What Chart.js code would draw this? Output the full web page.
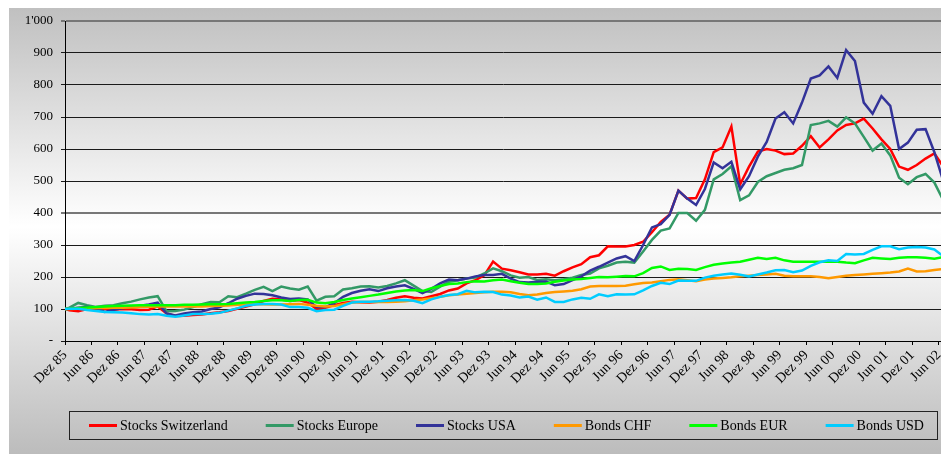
<!DOCTYPE html>
<html>
<head>
<meta charset="utf-8">
<script src="https://cdn.jsdelivr.net/npm/chart.js@4.4.1/dist/chart.umd.min.js"></script>
<style>
  html, body { margin: 0; padding: 0; background: #fff; overflow: hidden; }
</style>
</head>
<body>
<canvas id="chart" width="941" height="454"></canvas>
<script>
// month index since Dez 85 (0 = Dez 85), sampled at the odd months
const months = [0,1,3,5,7,9,11,13,15,17,19,21,23,25,27,29,31,33,35,37,39,41,43,45,47,49,
  51,53,55,57,59,61,63,65,67,69,71,73,75,77,79,81,83,85,87,89,91,93,95,97,99,
  101,103,105,107,109,111,113,115,117,119,121,123,125,127,129,131,133,135,137,139,141,143,145,147,149,
  151,153,155,157,159,161,163,165,167,169,171,173,175,177,179,181,183,185,187,189,191,193,195,197,199];

const tickLabels = ['Dez 85','Jun 86','Dez 86','Jun 87','Dez 87','Jun 88','Dez 88','Jun 89','Dez 89',
  'Jun 90','Dez 90','Jun 91','Dez 91','Jun 92','Dez 92','Jun 93','Dez 93','Jun 94','Dez 94','Jun 95',
  'Dez 95','Jun 96','Dez 96','Jun 97','Dez 97','Jun 98','Dez 98','Jun 99','Dez 99','Jun 00','Dez 00',
  'Jun 01','Dez 01','Jun 02'];

const stocksSwitzerland = [100,96,93,100,102,101,98,100,99,97,
  98,108,86,78,79,81,83,87,90,94,
  101,108,115,125,132,130,125,128,120,100,
  104,112,119,123,121,120,123,128,135,140,
  135,133,140,147,158,164,180,190,205,248,
  226,221,215,208,208,210,204,218,230,240,
  262,268,296,295,295,300,310,340,372,395,
  470,445,447,505,590,605,670,490,545,592,
  600,595,584,586,610,640,605,630,658,675,
  680,695,664,630,600,545,535,550,570,586,
  545];

const stocksEurope = [100,104,119,112,106,110,112,118,123,130,
  136,140,93,94,98,106,115,122,121,140,
  137,148,160,169,156,170,164,160,170,126,
  138,140,161,165,170,171,167,172,180,190,
  173,156,153,170,185,190,195,198,211,227,
  218,205,198,200,191,193,190,193,198,206,
  211,227,235,245,248,245,280,316,345,352,
  400,400,376,410,505,522,546,440,455,497,
  515,525,535,540,550,675,680,688,670,699,
  680,638,595,617,580,510,490,512,522,495,
  440];

const stocksUSA = [100,101,104,106,104,91,98,102,106,110,
  114,120,86,80,86,90,92,100,105,118,
  132,141,148,147,143,136,131,133,130,106,
  106,118,138,150,157,162,156,165,170,174,
  163,150,163,180,192,190,195,202,206,206,
  210,195,184,183,185,186,174,178,190,202,
  220,232,245,258,265,250,300,355,365,394,
  470,445,425,475,558,540,560,474,515,576,
  622,695,715,680,745,820,830,858,822,909,
  875,745,710,765,735,600,620,660,662,590,
  500];

const bondsCHF = [100,100,101,102,103,103,104,104,105,106,
  107,108,108,108,108,108,108,109,110,111,
  113,114,115,115,114,114,115,116,113,110,
  108,109,115,120,122,122,122,122,123,124,
  127,130,134,138,143,145,148,150,152,154,
  154,152,147,143,145,150,153,155,157,162,
  170,172,172,172,173,177,181,183,187,191,
  193,190,187,192,195,197,199,202,204,206,
  208,210,204,202,202,202,200,196,200,204,
  206,208,210,212,214,217,226,217,218,222,
  225];

const bondsEUR = [100,101,103,105,106,108,109,110,111,112,
  112,112,112,112,113,113,114,115,115,116,
  118,120,122,125,127,127,125,128,129,120,
  118,122,128,133,137,141,145,150,155,158,
  159,156,165,172,178,180,184,187,186,190,
  192,187,182,178,178,180,185,189,192,194,
  197,200,199,201,203,202,212,228,233,222,
  226,225,222,231,238,242,245,248,254,260,
  256,260,252,248,248,248,248,248,248,245,
  243,252,260,258,256,260,262,262,260,257,
  262];

const bondsUSD = [100,101,101,97,94,91,90,89,87,84,
  83,84,79,76,80,84,84,85,88,95,
  102,110,114,116,116,114,106,106,104,93,
  97,98,110,120,123,123,124,126,127,128,
  126,118,130,138,144,146,157,152,154,153,
  145,142,136,139,129,136,122,122,130,135,
  132,146,140,146,145,146,158,172,182,178,
  189,188,188,198,204,208,211,207,202,208,
  214,221,222,215,220,235,246,252,250,272,
  270,272,285,296,296,287,292,294,292,286,
  265];

const seriesNames = ['Stocks Switzerland','Stocks Europe','Stocks USA','Bonds CHF','Bonds EUR','Bonds USD'];
const seriesValues = [stocksSwitzerland, stocksEurope, stocksUSA, bondsCHF, bondsEUR, bondsUSD];
const seriesColors = ['#ff0000','#339966','#333399','#ff9900','#00ff00','#00ccff'];

const FONT = '"Liberation Serif", "Times New Roman", serif';

// grey - white - grey backdrop like the old spreadsheet chart
const backdrop = {
  id: 'backdrop',
  beforeDraw(chart) {
    const {ctx, width, height} = chart;
    ctx.save();
    ctx.fillStyle = '#fff';
    ctx.fillRect(0, 0, width, height);
    const g = ctx.createLinearGradient(0, 8, 0, height);
    g.addColorStop(0, '#c0c0c0');
    g.addColorStop(0.49, '#ffffff');
    g.addColorStop(1, '#bcbcbc');
    ctx.fillStyle = g;
    ctx.fillRect(9, 8, width - 9, height - 8);
    ctx.restore();
  }
};

// boxed legend under the axis
const legendBox = {
  id: 'legendBox',
  afterDraw(chart) {
    const ctx = chart.ctx;
    ctx.save();
    ctx.strokeStyle = '#222';
    ctx.lineWidth = 1;
    ctx.strokeRect(69.5, 411.5, 868, 28);
    ctx.font = '14px ' + FONT;
    ctx.textBaseline = 'middle';
    let x = 89;
    chart.data.datasets.forEach(ds => {
      ctx.strokeStyle = ds.borderColor;
      ctx.lineWidth = 3;
      ctx.beginPath();
      ctx.moveTo(x, 425.5);
      ctx.lineTo(x + 28, 425.5);
      ctx.stroke();
      ctx.fillStyle = '#000';
      ctx.fillText(ds.label, x + 31, 426);
      x += 31 + ctx.measureText(ds.label).width + 38;
    });
    ctx.restore();
  }
};

const datasets = seriesNames.map((name, i) => ({
  label: name,
  data: months.map((m, j) => ({x: m, y: seriesValues[i][j]})),
  borderColor: seriesColors[i],
  backgroundColor: seriesColors[i],
  borderWidth: 2.5,
  pointRadius: 0,
  tension: 0,
  order: seriesNames.length - 1 - i
}));

new Chart(document.getElementById('chart'), {
  type: 'line',
  data: {datasets},
  options: {
    responsive: false,
    animation: false,
    devicePixelRatio: 1,
    layout: {padding: {top: 21, left: 0, right: 0, bottom: 0}},
    plugins: {legend: {display: false}, tooltip: {enabled: false}},
    scales: {
      x: {
        type: 'linear',
        min: 0,
        max: 198.5,
        afterBuildTicks(scale) {
          scale.ticks = tickLabels.map((_, i) => ({value: i * 6}));
        },
        afterFit(scale) {
          scale.height = 113;
          scale.paddingLeft = 0;
          scale.paddingRight = 0;
        },
        ticks: {
          autoSkip: false,
          minRotation: 45,
          maxRotation: 45,
          padding: 2,
          color: '#000',
          font: {family: FONT, size: 14},
          callback: (v, i) => tickLabels[i]
        },
        grid: {drawOnChartArea: false, drawTicks: true, tickLength: 4, color: '#000'},
        border: {color: '#000', width: 1}
      },
      y: {
        min: 0,
        max: 1000,
        afterFit(scale) { scale.width = 65; },
        ticks: {
          stepSize: 100,
          padding: 8,
          color: '#000',
          font: {family: FONT, size: 13},
          callback: v => v === 0 ? '-' : v === 1000 ? "1'000" : String(v)
        },
        grid: {
          tickLength: 4,
          color: c => (c.tick && (c.tick.value === 1000 || c.tick.value === 400)) ? '#777' : '#1a1a1a',
          lineWidth: c => (c.tick && (c.tick.value === 1000 || c.tick.value === 400)) ? 2 : 1
        },
        border: {color: '#000', width: 1}
      }
    }
  },
  plugins: [backdrop, legendBox]
});
</script>
</body>
</html>
